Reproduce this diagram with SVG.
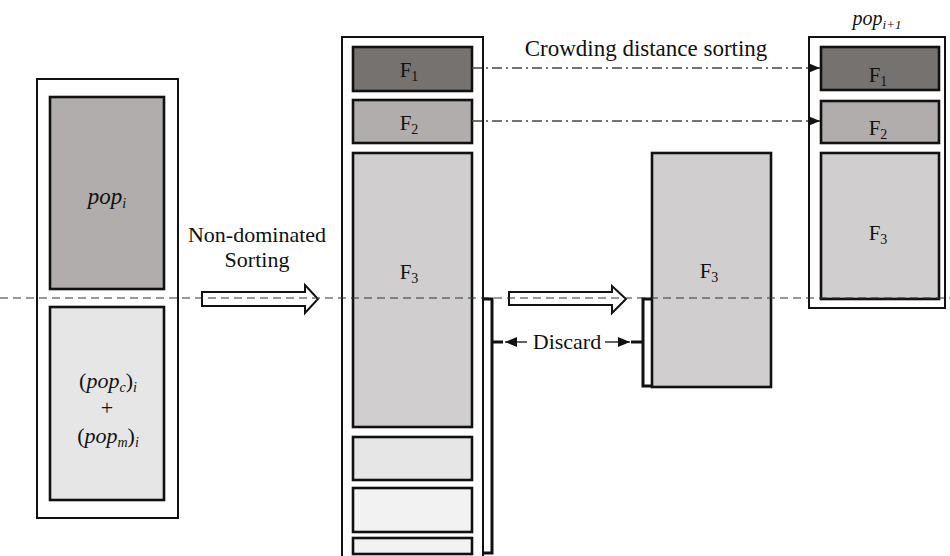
<svg xmlns="http://www.w3.org/2000/svg" width="950" height="556" viewBox="0 0 950 556">
<style>
.t{font-size:22px;}
.f{font-size:21px;text-anchor:middle;}
.s{font-size:14px;}
.it{font-style:italic;}
.outer{fill:#fff;stroke:#111;stroke-width:2;}
.inner{stroke:#111;stroke-width:2.6;}
.dd{fill:none;stroke:#444;stroke-width:1.5;stroke-dasharray:10,4,2,4;}
.hollow{fill:#fff;stroke:#111;stroke-width:2;}
.br{fill:none;stroke:#111;stroke-width:3;}
</style>
<defs>
<marker id="ah" viewBox="0 0 12 10" refX="12" refY="5" markerWidth="12" markerHeight="10" markerUnits="userSpaceOnUse" orient="auto">
<path d="M0,0 L12,5 L0,10 Z" fill="#111"/>
</marker>
</defs>
<g font-family="Liberation Serif, Times New Roman, DejaVu Serif, serif" fill="#111">

<g id="left-column">
<rect class="outer" x="37" y="79" width="141" height="439"/>
<rect class="inner" x="50" y="97" width="114" height="192" fill="#b0adac"/>
<rect class="inner" x="50" y="307" width="114" height="193" fill="#e6e6e6"/>
<text x="107" y="204" text-anchor="middle" style="font-size:23px"><tspan class="it">pop</tspan><tspan class="s it" dy="4">i</tspan></text>
<text x="108" y="388" text-anchor="middle" class="t">(<tspan class="it">pop</tspan><tspan class="s it" dy="4">c</tspan><tspan dy="-4">)</tspan><tspan class="s it" dy="4">i</tspan></text>
<text x="107" y="415" text-anchor="middle" class="t">+</text>
<text x="108" y="443" text-anchor="middle" class="t">(<tspan class="it">pop</tspan><tspan class="s it" dy="4">m</tspan><tspan dy="-4">)</tspan><tspan class="s it" dy="4">i</tspan></text>
</g>

<g id="middle-column">
<rect class="outer" x="342" y="37" width="141" height="530"/>
<rect class="inner" x="353" y="47" width="119" height="44" fill="#767270"/>
<rect class="inner" x="353" y="100" width="119" height="43" fill="#b0adac"/>
<rect class="inner" x="353" y="153" width="119" height="274" fill="#d0cecf"/>
<rect class="inner" x="353" y="437" width="119" height="43" fill="#e6e6e6"/>
<rect class="inner" x="353" y="488" width="119" height="44" fill="#f2f2f2"/>
<rect class="inner" x="353" y="538" width="119" height="16" fill="#f2f2f2"/>
<text x="409" y="77" class="f">F<tspan class="s" dy="4">1</tspan></text>
<text x="409" y="130" class="f">F<tspan class="s" dy="4">2</tspan></text>
<text x="409" y="279" class="f">F<tspan class="s" dy="4">3</tspan></text>
</g>

<g id="f3-cut">
<rect class="inner" x="652" y="153" width="119" height="234" fill="#d0cecf" stroke-width="2"/>
<text x="709" y="278" class="f">F<tspan class="s" dy="4">3</tspan></text>
</g>

<g id="right-column">
<rect class="outer" x="809" y="37" width="136" height="271"/>
<rect class="inner" x="821" y="47" width="118" height="43" fill="#767270"/>
<rect class="inner" x="821" y="101" width="118" height="42" fill="#b0adac"/>
<rect class="inner" x="821" y="153" width="118" height="146" fill="#d0cecf"/>
<text x="878" y="82" class="f">F<tspan class="s" dy="4">1</tspan></text>
<text x="878" y="135" class="f">F<tspan class="s" dy="4">2</tspan></text>
<text x="878" y="240" class="f">F<tspan class="s" dy="4">3</tspan></text>
<text x="877" y="25" text-anchor="middle" style="font-size:20px" class="it">pop<tspan style="font-size:13px" dy="4">i+1</tspan></text>
</g>

<g id="connectors">
<path class="hollow" d="M202,292 H305 V285 L318,299 L305,313 V306 H202 Z"/>
<path class="hollow" d="M509,292 H612 V286 L626,299 L612,313 V305 H509 Z"/>
<line x1="0" y1="298" x2="950" y2="298" stroke="#333" stroke-width="1.2" stroke-dasharray="8,5"/>
<line class="dd" x1="472" y1="68" x2="820" y2="68" marker-end="url(#ah)"/>
<line class="dd" x1="472" y1="121" x2="820" y2="121" marker-end="url(#ah)"/>
<path class="br" d="M483,299 H492 V553 H484"/>
<path class="br" d="M492,342 H503"/>
<path class="br" d="M652,299 H643 V386 H652"/>
<path class="br" d="M643,342 H631"/>
<line x1="527" y1="342" x2="505" y2="342" stroke="#111" stroke-width="1.3" marker-end="url(#ah)"/>
<line x1="605" y1="342" x2="630" y2="342" stroke="#111" stroke-width="1.3" marker-end="url(#ah)"/>
</g>

<g id="labels">
<text x="257" y="242" text-anchor="middle" class="t">Non-dominated</text>
<text x="257" y="267" text-anchor="middle" class="t">Sorting</text>
<text x="646" y="56" text-anchor="middle" style="font-size:23px">Crowding distance sorting</text>
<text x="567" y="349" text-anchor="middle" class="t">Discard</text>
</g>
</g>
</svg>
